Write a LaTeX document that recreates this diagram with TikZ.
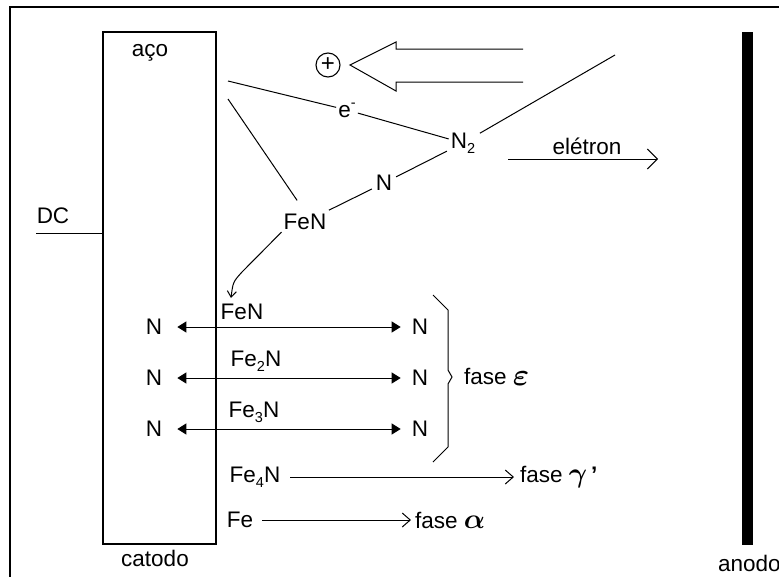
\documentclass[tikz,border=0pt]{standalone}
\usepackage{fontspec}
\usepackage{amsmath}
\usepackage{fix-cm}
\setmainfont{Liberation Sans}
\usetikzlibrary{arrows.meta,calc}
\newcommand\mysub[1]{\raisebox{-.45ex}{\fontsize{14.5}{14.5}\selectfont #1}}
\newcommand\mysup[1]{\raisebox{.85ex}{\fontsize{14.5}{14.5}\selectfont #1}}
\begin{document}
\begin{tikzpicture}[x=1pt,y=-1pt,
  lbl/.style={font=\fontsize{22.5}{26}\selectfont, inner sep=2pt},
  ln/.style={line width=1pt},
  dbl/.style={line width=1pt,{Triangle[length=9pt,width=11pt]}-{Triangle[length=9pt,width=11pt]}},
  barb/.style={line width=1pt,-{Straight Barb[length=8pt,width=14pt]}}]
\useasboundingbox (0,0) rectangle (779,576);
% frame
\draw[line width=2.5pt] (10,590) -- (10,7) -- (800,7);
% cathode
\node[draw, line width=1.3pt, minimum width=113pt, minimum height=512pt, inner sep=0pt] (cat) at (159.5,288) {};
\node[lbl] (aco) at (150,53) {aço};
\node[lbl] (catodo) at (155,558) {catodo};
\node[lbl] (dc) at (53,216) {DC};
\coordinate (dcend) at (36,233);
\draw[ln] (dcend) -- (cat.west |- dcend);
% anode
\node[fill=black, minimum width=11pt, minimum height=513pt, inner sep=0pt] (anode) at (747.5,288.5) {};
\node[lbl, anchor=west] (anodo) at (716,563) {anodo};
% upper reaction scheme
\node[lbl] (em) at (347,110) {e\mysup{-}};
\node[lbl] (N2) at (463,143) {N\mysub{2}};
\node[lbl] (Nm) at (384,183) {N};
\node[lbl] (FeNt) at (305,222) {FeN};
\coordinate (a1) at (228,81);
\coordinate (a2) at (228,99);
\coordinate (b1) at (615,55);
\draw[ln] (a1) -- (em);
\draw[ln] (em) -- (N2);
\draw[ln, shorten >=14pt] (a2) -- (FeNt.north);
\draw[ln, shorten <=4pt, shorten >=2pt] (FeNt) -- (Nm);
\draw[ln, shorten <=2pt, shorten >=2pt] (Nm) -- (N2);
\draw[ln, shorten <=3pt] (N2) -- (b1);
% plus and hollow arrow
\node[draw, circle, line width=1.1pt, minimum size=24pt, inner sep=0pt, font=\fontsize{24}{24}\selectfont] (plus) at (328,65) {\raisebox{.1ex}{+}};
\coordinate (tip) at (350,65);
\draw[ln] (523,49) -- (396,49) -- (396,42) -- (tip) -- (396,91) -- (396,82) -- (523,82);
% electron arrow
\node[lbl] (el) at (587,146) {elétron};
\coordinate (e1) at (508,159);
\coordinate (e2) at (658,159);
\draw[line width=1pt,-{Straight Barb[length=10pt,width=20pt]}] (e1) -- (e2);
% lower part
\node[lbl] (FeN1) at (242,312) {FeN};
\coordinate (ftip) at (231,298);
\draw[line width=1pt,-{Straight Barb[length=6pt,width=9pt]}] (FeNt.south west) -- (242,272) .. controls (233,282) .. (ftip);
\node[lbl] (L1) at (154,327) {N};
\node[lbl] (R1) at (420,327) {N};
\node[lbl] (L2) at (154,378) {N};
\node[lbl] (R2) at (420,378) {N};
\node[lbl] (L3) at (154,429) {N};
\node[lbl] (R3) at (420,429) {N};
\draw[dbl, shorten <=13pt, shorten >=9pt] (L1) -- (R1);
\draw[dbl, shorten <=13pt, shorten >=9pt] (L2) -- (R2);
\draw[dbl, shorten <=13pt, shorten >=9pt] (L3) -- (R3);
\node[lbl] (Fe2) at (256,361) {Fe\mysub{2}N};
\node[lbl] (Fe3) at (254,412) {Fe\mysub{3}N};
% brace
\draw[ln] (433,295) -- (448,310) -- (448,370) -- (452,377) -- (448,384) -- (448,447) -- (433,462);
\node[lbl, anchor=west] (eps) at (462,377) {fase \raisebox{-.1ex}{\fontsize{31}{32}\selectfont$\boldsymbol{\varepsilon}$}};
% gamma
\node[lbl] (Fe4) at (255,477) {Fe\mysub{4}N};
\node[lbl, anchor=west] (gam) at (518,477) {fase {\fontsize{28}{30}\selectfont$\boldsymbol{\gamma}$}\,\textbf{\char39}};
\draw[barb, shorten <=8pt, shorten >=4pt] (Fe4) -- (gam.west);
% alpha
\node[lbl, anchor=center] (Fe) at (240,520) {Fe};
\node[lbl, anchor=west] (alp) at (413,520) {fase {\fontsize{28}{30}\selectfont$\boldsymbol{\alpha}$}};
\draw[barb, shorten <=7pt, shorten >=2pt] (Fe) -- (alp.west);
\end{tikzpicture}
\end{document}
